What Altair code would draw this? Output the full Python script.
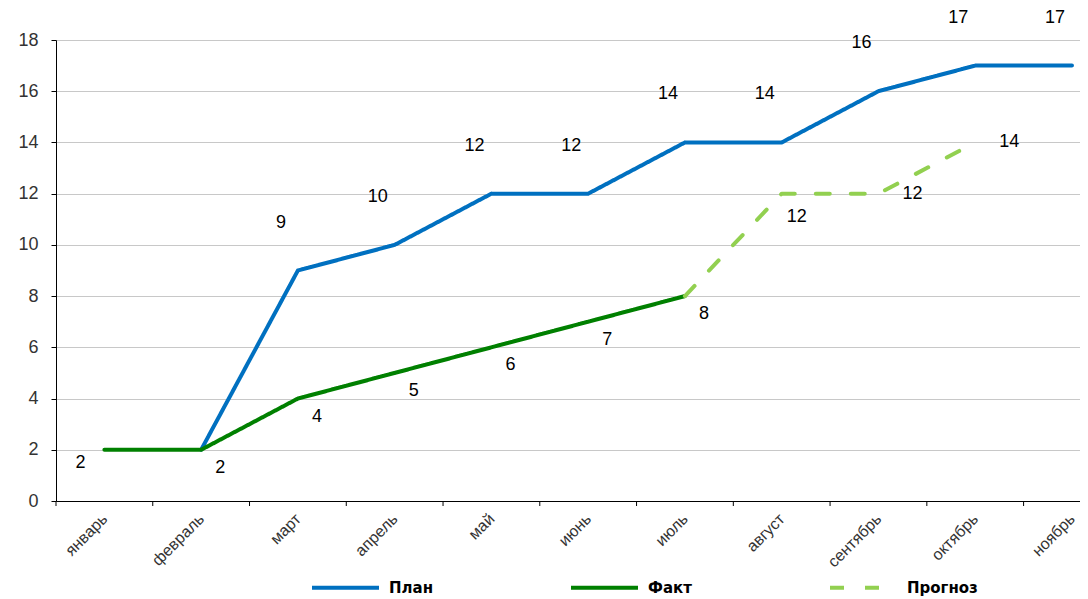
import json
import altair as alt
import pandas as pd

months = ["январь", "февраль", "март", "апрель", "май", "июнь", "июль",
          "август", "сентябрь", "октябрь", "ноябрь"]
plan = [None, 2, 9, 10, 12, 12, 14, 14, 16, 17, 17]
fact = [2, 2, 4, 5, 6, 7, 8, None, None, None, None]
forecast = [None, None, None, None, None, None, 8, 12, 12, 14, None]
series_names = ["План", "Факт", "Прогноз"]
y_ticks = list(range(0, 19, 2))

rows = []
for name, vals in zip(series_names, [plan, fact, forecast]):
    for i, v in enumerate(vals):
        if v is not None:
            rows.append({"idx": i, "month": months[i], "value": v, "series": name})
df = pd.DataFrame(rows)
bounds = pd.DataFrame({"b": [i - 0.5 for i in range(len(months))]})

W, H = 1024, 461
xscale = alt.Scale(domain=[-0.5, 10.083], nice=False, zero=False)
yscale = alt.Scale(domain=[0, 18], nice=False)
months_js = json.dumps(months, ensure_ascii=False)

legend = alt.Legend(orient="none", legendX=254, legendY=512, direction="horizontal",
                    columns=3, gridAlign="all", columnPadding=103, title=None,
                    symbolType="stroke", symbolSize=4489, symbolStrokeWidth=4,
                    labelFont="DejaVu Sans", labelFontWeight="bold",
                    labelFontSize=15, labelColor="black", labelOffset=8)

base = alt.Chart(df)

lines = base.mark_line(strokeWidth=4, strokeCap="round", strokeJoin="round").encode(
    x=alt.X("idx:Q", scale=xscale,
            axis=alt.Axis(values=list(range(len(months))), labelExpr=f"{months_js}[datum.value]",
                          ticks=False, grid=False, domainColor="black", title=None,
                          labelAngle=-45, labelAlign="right", labelBaseline="middle",
                          labelPadding=15, labelFont="Liberation Sans", labelFontSize=16,
                          labelColor="#333333", labelOverlap=False, labelFlush=False,
                          labelBound=False)),
    y=alt.Y("value:Q", scale=yscale,
            axis=alt.Axis(values=y_ticks, title=None, tickColor="black", tickSize=5,
                          domainColor="black", gridColor="#c8c8c8", labelPadding=13,
                          labelFont="Liberation Sans", labelFontSize=18, labelColor="#333333")),
    color=alt.Color("series:N",
                    scale=alt.Scale(domain=series_names, range=["#0070C0", "#008000", "#92D050"]),
                    legend=legend),
    strokeDash=alt.StrokeDash("series:N",
                              scale=alt.Scale(domain=series_names, range=[[1, 0], [1, 0], [14, 21]]),
                              legend=legend),
    detail="series:N",
)

ticks = alt.Chart(bounds).mark_rule(color="black", strokeWidth=1).encode(
    x=alt.X("b:Q", scale=xscale),
    y=alt.value(H),
    y2=alt.value(H + 5),
)

def labels(series, cond, dx, dy):
    return base.transform_filter(alt.datum.series == series).transform_filter(cond).mark_text(
        font="Liberation Sans", fontSize=18, color="black", dx=dx, dy=dy,
        align="center", baseline="middle"
    ).encode(x=alt.X("idx:Q", scale=xscale), y=alt.Y("value:Q", scale=yscale), text="value:Q")

layers = [
    ticks,
    lines,
    labels("План", alt.datum.idx >= 2, -17, -48),
    labels("Факт", alt.datum.idx >= 1, 19, 18),
    labels("Факт", alt.datum.idx == 0, -24, 13),
    labels("Прогноз", alt.datum.idx >= 8, 34, 0),
    labels("Прогноз", alt.datum.idx == 7, 15, 23),
]

chart = alt.layer(*layers).properties(
    width=W, height=H,
    autosize=alt.AutoSizeParams(type="none"),
    padding={"left": 48, "top": 32, "right": 0, "bottom": 96},
).configure_view(stroke=None)

chart.save("out.html", embed_options={"renderer": "svg", "actions": False})
